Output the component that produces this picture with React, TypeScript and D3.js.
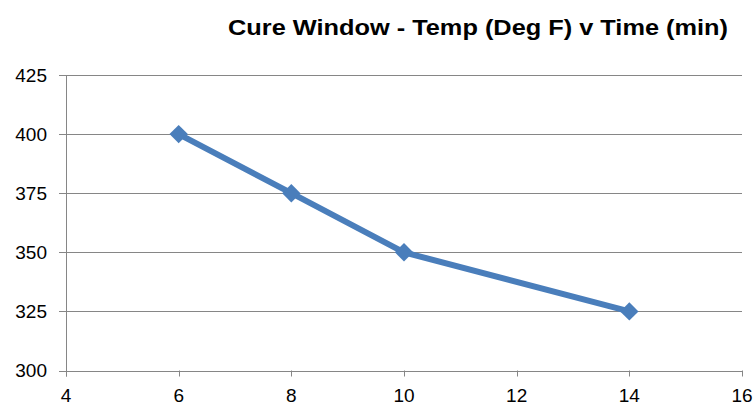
import React from "react";
import * as d3 from "d3";

const times = [6, 8, 10, 14];
const temps = [400, 375, 350, 325];
const xTicks = [4, 6, 8, 10, 12, 14, 16];
const yTicks = [300, 325, 350, 375, 400, 425];
const title = "Cure Window - Temp (Deg F) v Time (min)";

const W = 754;
const H = 402;
const left = 66;
const right = 742;
const top = 75;
const bottom = 370.5;

export default function App() {
  const x = d3.scaleLinear().domain([4, 16]).range([left, right]);
  const y = d3.scaleLinear().domain([300, 425]).range([bottom, top]);
  const data = times.map((t, i) => ({ t, v: temps[i] }));
  const line = d3
    .line<{ t: number; v: number }>()
    .x((d) => x(d.t))
    .y((d) => y(d.v));
  const grid = "#868686";
  const blue = "#4A7EBB";
  const font = "Arial, 'Liberation Sans', sans-serif";
  const diamond = d3.symbol().type(d3.symbolDiamond2).size(215)();
  return (
    <svg
      width={W}
      height={H}
      style={{ position: "absolute", left: 0, top: 0, background: "#fff" }}
    >
      <text
        x={228}
        y={34.5}
        textLength={500}
        lengthAdjust="spacingAndGlyphs"
        fontFamily={font}
        fontWeight="bold"
        fontSize={21.5}
        fill="#000"
      >
        {title}
      </text>
      {yTicks.map((v) => (
        <g key={v}>
          <line
            x1={left - 7}
            x2={right}
            y1={Math.round(y(v)) + 0.5}
            y2={Math.round(y(v)) + 0.5}
            stroke={grid}
            strokeWidth={1}
          />
          <text
            x={47}
            y={y(v)}
            dy="0.35em"
            textAnchor="end"
            fontFamily={font}
            fontSize={19}
            fill="#000"
          >
            {v}
          </text>
        </g>
      ))}
      <line x1={left + 0.5} x2={left + 0.5} y1={top} y2={bottom + 6} stroke={grid} strokeWidth={1} />
      {xTicks.map((t) => (
        <g key={t}>
          <line
            x1={Math.round(x(t)) + 0.5}
            x2={Math.round(x(t)) + 0.5}
            y1={bottom}
            y2={bottom + 6}
            stroke={grid}
            strokeWidth={1}
          />
          <text
            x={x(t)}
            y={402}
            textAnchor="middle"
            fontFamily={font}
            fontSize={19}
            fill="#000"
          >
            {t}
          </text>
        </g>
      ))}
      <path d={line(data) || ""} fill="none" stroke={blue} strokeWidth={6} strokeLinejoin="round" />
      {data.map((d) => (
        <path key={d.t} d={diamond || ""} transform={`translate(${x(d.t)},${y(d.v)})`} fill={blue} />
      ))}
    </svg>
  );
}
